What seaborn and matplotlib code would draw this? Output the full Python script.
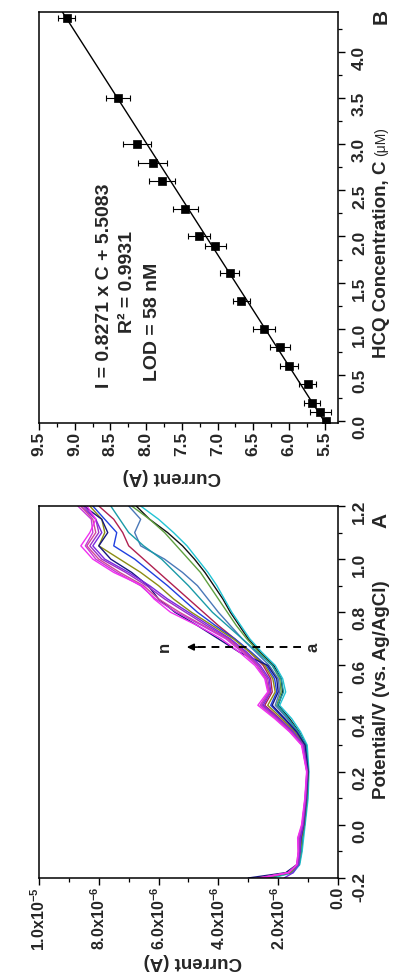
import numpy as np
import pandas as pd
import matplotlib
matplotlib.use("Agg")
import matplotlib.pyplot as plt
import seaborn as sns
from matplotlib.ticker import MultipleLocator, FixedLocator, FixedFormatter, FormatStrFormatter

sns.set_theme(style="ticks")
plt.rcParams["font.family"] = ["Liberation Sans", "DejaVu Sans"]
plt.rcParams["font.weight"] = "bold"
plt.rcParams["mathtext.fontset"] = "custom"
plt.rcParams["mathtext.bf"] = "Liberation Sans:bold"
plt.rcParams["mathtext.rm"] = "Liberation Sans:bold"
plt.rcParams["mathtext.default"] = "bf"

# ---------------- Panel A data (current in 1e-6 A vs potential in V) ----------------
potential = [-0.20, -0.18, -0.15, -0.10, -0.05, 0.00, 0.10, 0.20, 0.30, 0.35, 0.40, 0.45, 0.50,
             0.55, 0.60, 0.65, 0.70, 0.75, 0.80, 0.85, 0.90, 0.95, 1.00, 1.05, 1.10, 1.15, 1.20]
curve_a = [2.3, 1.55, 1.3, 1.22, 1.18, 1.12, 1.03, 0.99, 1.06, 1.3, 1.62, 2.0, 1.85, 1.9, 2.15, 2.6, 3.0, 3.3, 3.6, 3.85, 4.15, 4.45, 4.8, 5.2, 5.7, 6.3, 6.75]
curve_b = [2.2, 1.5, 1.28, 1.2, 1.15, 1.1, 1.0, 0.97, 1.03, 1.25, 1.55, 1.95, 1.75, 1.85, 2.1, 2.55, 2.95, 3.25, 3.55, 3.8, 4.05, 4.35, 4.7, 5.05, 5.5, 6.0, 6.6]
curve_c = [2.4, 1.6, 1.32, 1.24, 1.2, 1.13, 1.04, 1.0, 1.08, 1.33, 1.68, 2.05, 1.9, 1.95, 2.2, 2.65, 3.05, 3.4, 3.7, 4.0, 4.3, 4.6, 5.0, 5.4, 5.8, 6.3, 6.9]
curve_d = [2.5, 1.6, 1.33, 1.25, 1.2, 1.14, 1.05, 1.0, 1.1, 1.35, 1.7, 2.1, 1.95, 2.0, 2.3, 2.75, 3.2, 3.6, 4.0, 4.35, 4.7, 5.2, 5.8, 6.6, 6.8, 6.6, 7.0]
curve_e = [2.4, 1.58, 1.3, 1.23, 1.19, 1.12, 1.03, 0.99, 1.07, 1.32, 1.66, 2.02, 1.82, 1.9, 2.2, 2.7, 3.2, 3.7, 4.2, 4.6, 5.0, 5.45, 5.9, 6.5, 7.0, 7.3, 7.6]
curve_f = [2.6, 1.62, 1.36, 1.3, 1.28, 1.18, 1.08, 1.02, 1.15, 1.5, 1.95, 2.45, 2.2, 2.25, 2.5, 2.95, 3.45, 4.0, 4.5, 5.0, 5.5, 6.0, 6.5, 7.0, 7.2, 7.5, 8.0]
curve_g = [2.7, 1.65, 1.35, 1.27, 1.24, 1.15, 1.06, 1.01, 1.12, 1.42, 1.82, 2.25, 2.05, 2.12, 2.4, 2.9, 3.45, 4.1, 4.7, 5.2, 5.7, 6.25, 6.8, 7.5, 7.4, 7.8, 8.2]
curve_h = [2.5, 1.6, 1.33, 1.26, 1.22, 1.14, 1.05, 1.0, 1.12, 1.45, 1.88, 2.35, 2.1, 2.18, 2.45, 2.95, 3.5, 4.2, 4.9, 5.5, 6.0, 6.6, 7.3, 8.0, 7.8, 7.9, 8.3]
curve_i = [3.0, 1.75, 1.38, 1.28, 1.24, 1.15, 1.06, 1.0, 1.1, 1.38, 1.78, 2.2, 2.0, 2.05, 2.35, 3.3, 4.0, 4.7, 5.45, 6.0, 6.35, 6.9, 7.6, 8.0, 7.7, 7.9, 8.5]
curve_j = [1.8, 1.5, 1.32, 1.27, 1.25, 1.16, 1.07, 1.02, 1.15, 1.5, 1.98, 2.5, 2.25, 2.3, 2.6, 3.05, 3.6, 4.3, 5.0, 5.7, 6.3, 7.0, 7.8, 8.2, 7.9, 8.1, 8.6]
curve_k = [2.6, 1.65, 1.36, 1.3, 1.3, 1.19, 1.09, 1.03, 1.18, 1.55, 2.02, 2.55, 2.28, 2.35, 2.65, 3.1, 3.65, 4.4, 5.1, 5.8, 6.4, 7.1, 7.9, 8.3, 8.0, 8.1, 8.5]
curve_l = [2.7, 1.68, 1.38, 1.33, 1.34, 1.2, 1.1, 1.04, 1.2, 1.58, 2.06, 2.6, 2.3, 2.4, 2.7, 3.15, 3.7, 4.5, 5.3, 6.0, 6.5, 7.3, 8.0, 8.4, 8.1, 8.2, 8.6]
curve_m = [2.6, 1.66, 1.37, 1.32, 1.32, 1.2, 1.1, 1.04, 1.2, 1.6, 2.08, 2.6, 2.32, 2.42, 2.72, 3.2, 3.75, 4.55, 5.4, 6.1, 6.6, 7.4, 8.1, 8.45, 8.2, 8.25, 8.7]
curve_n = [2.6, 1.65, 1.38, 1.33, 1.35, 1.22, 1.11, 1.05, 1.22, 1.62, 2.12, 2.68, 2.35, 2.45, 2.78, 3.3, 3.9, 4.7, 5.6, 6.15, 6.55, 7.5, 8.2, 8.6, 8.3, 8.1, 8.4]
curve_names = list("abcdefghijklmn")
curve_colors = ["#111111", "#22C4D4", "#5FA040", "#4A78B8", "#1A9AA8", "#B02050", "#2040E0",
                "#8C8C14", "#151580", "#7A28E0", "#9A30C8", "#D04898", "#C838D8", "#F030F0"]
current_a_ticks = [0.0, 2.0e-6, 4.0e-6, 6.0e-6, 8.0e-6, 1.0e-5]
current_a_labels = ["0.0", r"2.0x10$^{-6}$", r"4.0x10$^{-6}$", r"6.0x10$^{-6}$", r"8.0x10$^{-6}$", r"1.0x10$^{-5}$"]

# ---------------- Panel B data ----------------
conc_B = [4.37, 3.5, 3.0, 2.8, 2.6, 2.3, 2.0, 1.9, 1.6, 1.3, 1.0, 0.8, 0.6, 0.4, 0.2, 0.1, 0.0]
current_B = [9.11, 8.39, 8.13, 7.91, 7.78, 7.45, 7.26, 7.03, 6.83, 6.67, 6.35, 6.12, 6.0, 5.74, 5.68, 5.56, 5.48]
err_B = [0.12, 0.17, 0.2, 0.2, 0.18, 0.17, 0.15, 0.15, 0.13, 0.12, 0.15, 0.14, 0.13, 0.115, 0.11, 0.145, 0.0]
fit_slope = 0.8271
fit_intercept = 5.5083

curves = [curve_a, curve_b, curve_c, curve_d, curve_e, curve_f, curve_g,
          curve_h, curve_i, curve_j, curve_k, curve_l, curve_m, curve_n]
rows = []
for name, vals in zip(curve_names, curves):
    for E, I in zip(potential, vals):
        rows.append({"curve": name, "E": E, "I": I * 1e-6})
dfA = pd.DataFrame(rows)

W, H = 393, 972
fig = plt.figure(figsize=(W / 100, H / 100), dpi=100)
axA = fig.add_axes([39 / W, 1 - 878 / H, 299 / W, 372 / H])
axB = fig.add_axes([39 / W, 1 - 423 / H, 299 / W, 411 / H])

TICK_FS = 12.5
LABEL_FS = 13.5
TEXT_FS = 14
TITLE_X = 381

# ---- Panel A ----
sns.lineplot(data=dfA, x="I", y="E", hue="curve", palette=dict(zip(curve_names, curve_colors)),
             sort=False, estimator=None, legend=False, lw=1.0, ax=axA)
axA.set_xlim(1.0e-5, 0.0)
axA.set_ylim(-0.2, 1.2)
axA.xaxis.set_major_locator(FixedLocator(current_a_ticks))
axA.xaxis.set_major_formatter(FixedFormatter(current_a_labels))
axA.xaxis.set_minor_locator(MultipleLocator(1.0e-6))
axA.yaxis.tick_right()
axA.yaxis.set_major_locator(MultipleLocator(0.2))
axA.yaxis.set_minor_locator(MultipleLocator(0.1))
axA.yaxis.set_major_formatter(FormatStrFormatter("%.1f"))
axA.set_xlabel("")
axA.set_ylabel("")

E_arrow = 0.669
axA.plot([1.25e-6, 4.75e-6], [E_arrow, E_arrow], color="black", lw=1.4, ls=(0, (4, 3)))
axA.annotate("", xy=(5.15e-6, E_arrow), xytext=(4.6e-6, E_arrow),
             arrowprops=dict(arrowstyle="-|>", color="black", lw=1.2, mutation_scale=10))
axA.text(0.85e-6, E_arrow, "a", rotation=90, ha="center", va="center", fontsize=12, fontweight="bold")
axA.text(5.8e-6, E_arrow, "n", rotation=90, ha="center", va="center", fontsize=12, fontweight="bold")

# ---- Panel B ----
axB.errorbar(current_B, conc_B, xerr=err_B, fmt="none", ecolor="black", elinewidth=0.8,
             capsize=2.5, capthick=0.8, zorder=2)
sns.scatterplot(x=current_B, y=conc_B, marker="s", s=40, color="black", edgecolor="black",
                linewidth=0.5, ax=axB, zorder=3)
ylimB = (-0.02, 4.43)
fitC = [ylimB[0], ylimB[1]]
fitI = [fit_slope * c + fit_intercept for c in fitC]
sns.lineplot(x=fitI, y=fitC, sort=False, color="black", lw=1.0, ax=axB)
axB.set_xlim(9.5, 5.315)
axB.set_ylim(*ylimB)
axB.xaxis.set_major_locator(MultipleLocator(0.5))
axB.xaxis.set_minor_locator(MultipleLocator(0.25))
axB.xaxis.set_major_formatter(FormatStrFormatter("%.1f"))
axB.yaxis.tick_right()
axB.yaxis.set_major_locator(MultipleLocator(0.5))
axB.yaxis.set_minor_locator(MultipleLocator(0.25))
axB.yaxis.set_major_formatter(FormatStrFormatter("%.1f"))
axB.set_xlabel("")
axB.set_ylabel("")

axB.text(8.58, 1.47, "I = 0.8271 x C + 5.5083", rotation=90, ha="center", va="center",
         fontsize=TEXT_FS, fontweight="bold")
axB.text(8.26, 1.51, "R\u00b2 = 0.9931", rotation=90, ha="center", va="center",
         fontsize=TEXT_FS, fontweight="bold")
axB.text(7.91, 1.07, "LOD = 58 nM", rotation=90, ha="center", va="center",
         fontsize=TEXT_FS, fontweight="bold")

for ax in (axA, axB):
    for sp in ax.spines.values():
        sp.set_visible(True)
        sp.set_linewidth(1.1)
        sp.set_color("black")
    ax.tick_params(which="major", direction="out", length=5, width=1.0, color="black",
                   labelsize=TICK_FS, labelrotation=90)
    ax.tick_params(which="minor", direction="out", length=3, width=0.9, color="black")
    ax.tick_params(axis="y", left=False, right=True, which="both", pad=5)
    ax.tick_params(axis="x", top=False, bottom=True, which="both", pad=1.5)
    for lab in ax.get_xticklabels() + ax.get_yticklabels():
        lab.set_fontweight("bold")
axA.tick_params(axis="x", which="major", labelsize=11.5)

# axis titles (rotated like the reference)
fig.text(193 / W, 1 - 961 / H, "Current (A)", rotation=180, ha="center", va="center",
         fontsize=LABEL_FS, fontweight="bold")
fig.text(172 / W, 1 - 477 / H, "Current (A)", rotation=180, ha="center", va="center",
         fontsize=LABEL_FS, fontweight="bold")
fig.text(TITLE_X / W, 1 - 690 / H, "Potential/V (vs. Ag/AgCl)", rotation=90, ha="center",
         va="center", fontsize=LABEL_FS, fontweight="bold")
lab_main = fig.text(TITLE_X / W, 1 - 358 / H, "HCQ Concentration, C", rotation=90,
                    rotation_mode="anchor", ha="left", va="center",
                    fontsize=LABEL_FS, fontweight="bold")
fig.canvas.draw()
bb = lab_main.get_window_extent()
fig.text(TITLE_X / W, (bb.y1 + 4) / fig.bbox.height, "(\u03bcM)", rotation=90,
         rotation_mode="anchor", ha="left", va="center", fontsize=10, fontweight="normal")

fig.text(TITLE_X / W, 1 - 520 / H, "A", rotation=90, ha="center", va="center", fontsize=15, fontweight="bold")
fig.text(TITLE_X / W, 1 - 16 / H, "B", rotation=90, ha="center", va="center", fontsize=15, fontweight="bold")

fig.savefig("out.png", dpi=100, facecolor="white")
